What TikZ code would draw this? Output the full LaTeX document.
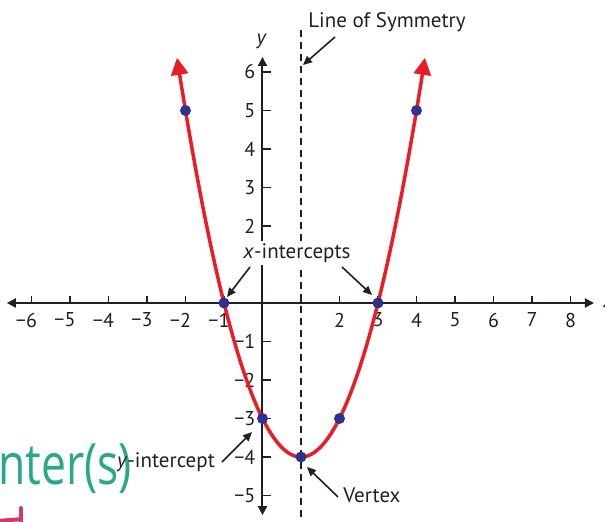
\documentclass[tikz,border=0pt]{standalone}
\usepackage{fontspec}
\setmainfont{PT Sans}
\newfontfamily\hwfont{Open Sans}
\usetikzlibrary{arrows.meta}
\definecolor{ink}{HTML}{231F20}
\definecolor{curvered}{HTML}{ED1C24}
\definecolor{dotblue}{HTML}{2E3192}
\definecolor{hwteal}{HTML}{26A98B}
\definecolor{hwpink}{HTML}{D2386C}
\newcommand\mn{−}
\begin{document}
\begin{tikzpicture}[x=38.5pt,y=38.5pt,
  axisline/.style={line width=2pt, draw=ink, {Triangle[length=9pt,width=9pt]}-{Triangle[length=9pt,width=9pt]}},
  tickmark/.style={line width=1.8pt, draw=ink},
  xlab/.style={anchor=north, inner sep=0pt, font=\fontsize{20}{20}\selectfont, text=ink},
  ylab/.style={anchor=east, inner sep=0pt, font=\fontsize{20}{20}\selectfont, text=ink},
  symline/.style={line width=2pt, draw=ink, dash pattern=on 7pt off 5pt},
  curveline/.style={line width=3.5pt, draw=curvered, line join=round, {Triangle[length=17pt,width=17pt]}-{Triangle[length=17pt,width=17pt]}},
  dotpt/.style={circle, fill=dotblue, inner sep=0pt, minimum size=11pt},
  annot/.style={line width=1.6pt, draw=ink, -{Triangle[length=9pt,width=8pt]}},
  lbl/.style={inner sep=1pt, font=\fontsize{21}{21}\selectfont, text=ink},
]
\useasboundingbox (-6.818,-5.688) rectangle (8.896,7.870);

% handwritten marks
\node[anchor=base west, inner sep=0pt, text=hwteal, xscale=0.78, font=\hwfont\fontsize{57}{57}\selectfont] (hand) at (-6.87,-4.72) {nter(s)};
\coordinate (pk1) at (-6.273,-5.325);
\coordinate (pk2) at (-6.273,-5.70);
\coordinate (pk3) at (-6.85,-5.66);
\coordinate (pk4) at (-6.35,-5.62);
\draw[hwpink, line width=4pt, line cap=round] (pk1) -- (pk2);
\draw[hwpink, line width=4pt, line cap=round] (pk3) -- (pk4);

% axes
\coordinate (xl) at (-6.64,0);
\coordinate (xr) at (8.61,0);
\coordinate (yb) at (0,-5.51);
\coordinate (yt) at (0,6.39);
\draw[axisline] (xl) -- (xr);
\draw[axisline] (yb) -- (yt);
\foreach \i in {-6,...,-1,1,2,...,8} \draw[tickmark] (\i,0) -- ++(0,0.19);
\foreach \j in {-5,...,-1,1,2,...,6} \draw[tickmark] (0,\j) -- ++(0.21,0);
\foreach \i in {1,...,6} \node[xlab] (xm\i) at (-\i,-0.25) {\llap{\mn}\i};
\foreach \i in {2,...,8} \node[xlab] (xp\i) at (\i,-0.25) {\i};
\foreach \j in {1,...,5} \node[ylab] (ym\j) at (-0.18,-\j) {\mn\j};
\foreach \j in {2,...,6} \node[ylab] (yp\j) at (-0.18,\j) {\j};
\node[font=\fontsize{21}{21}\selectfont\itshape, text=ink] (ylabel) at (-0.03,6.80) {y};
\node[font=\fontsize{21}{21}\selectfont\itshape, text=ink] (xlabel) at (8.98,0.02) {x};

% line of symmetry
\coordinate (st) at (1,7.09);
\coordinate (sb) at (1,-5.58);
\draw[symline] (st) -- (sb);

% parabola
\draw[curveline] (-2.22,6.3684) -- plot[domain=-2.1:4.1, samples=80] (\x,{(\x-1)^2-4}) -- (4.22,6.3684);

% points
\node[dotpt] (pa) at (-2,5) {};
\node[dotpt] (pb) at (-1,0) {};
\node[dotpt] (pc) at (0,-3) {};
\node[dotpt] (pd) at (1,-4) {};
\node[dotpt] (pe) at (2,-3) {};
\node[dotpt] (pf) at (3,0) {};
\node[dotpt] (pg) at (4,5) {};

% annotations
\node[lbl] (symtext) at (3.234,7.299) {Line of Symmetry};
\coordinate (syms) at (1.883,6.909);
\coordinate (symt) at (1.052,6.182);
\draw[annot] (syms) -- (symt);

\node[lbl, fill=white, inner sep=2pt] (xint) at (0.896,1.299) {\textit{x}-intercepts};
\coordinate (xis1) at (-0.325,0.935);
\coordinate (xit1) at (-0.922,0.156);
\coordinate (xis2) at (2.065,0.935);
\coordinate (xit2) at (2.844,0.208);
\draw[annot] (xis1) -- (xit1);
\draw[annot] (xis2) -- (xit2);

\node[lbl] (yint) at (-2.506,-4.130) {\textit{y}-intercept};
\coordinate (yis) at (-1.052,-4.130);
\coordinate (yit) at (-0.273,-3.351);
\draw[annot] (yis) -- (yit);

\node[lbl] (vtx) at (2.844,-4.987) {Vertex};
\coordinate (vs) at (1.961,-5.039);
\coordinate (vt) at (1.156,-4.260);
\draw[annot] (vs) -- (vt);
\end{tikzpicture}
\end{document}
